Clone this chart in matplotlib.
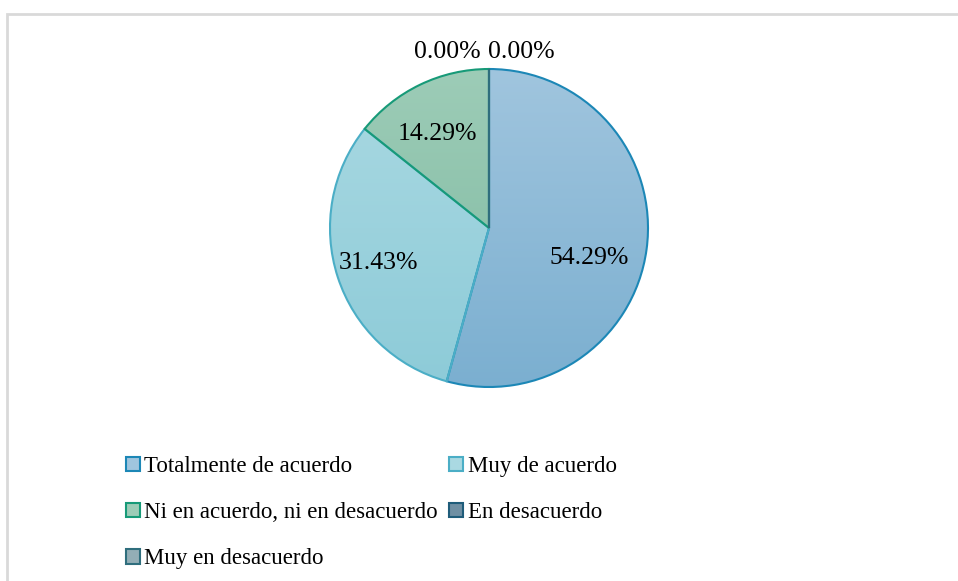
import numpy as np
import matplotlib.pyplot as plt
from matplotlib.patches import Patch, Rectangle
from matplotlib.colors import LinearSegmentedColormap

# data
categories = ["Totalmente de acuerdo", "Muy de acuerdo",
              "Ni en acuerdo, ni en desacuerdo", "En desacuerdo",
              "Muy en desacuerdo"]
percentages = [54.29, 31.43, 14.29, 0.00, 0.00]

# colours: (top of gradient, bottom of gradient, edge)
fill_top = ["#A0C5DE", "#AAD9E2", "#9DCCB7", "#6F8FA3", "#93AEB6"]
fill_bottom = ["#7BAFD0", "#8DCBD8", "#7DB9A0", "#56788E", "#7C99A3"]
edge_colors = ["#1C87B6", "#4BAEC6", "#179A78", "#1F5C7A", "#2F6E7D"]

# small shifts of the inside labels (Excel does not centre them exactly)
label_nudge = [(-0.044, -0.10), (-0.05, -0.012), (-0.03, -0.02)]

plt.rcParams['font.family'] = ['Liberation Serif', 'DejaVu Serif']

fig = plt.figure(figsize=(9.58, 5.81), dpi=100)

# light grey chart frame
fig.patches.append(Rectangle((7 / 958, -0.05), 1.2, 1 - 13.5 / 581 + 0.05,
                             transform=fig.transFigure, fill=False,
                             edgecolor="#D9D9D9", linewidth=2))

ax = fig.add_axes([330 / 958, 194 / 581, 318 / 958, 318 / 581])
wedges, _ = ax.pie(percentages, startangle=90, counterclock=False,
                   radius=1.0, wedgeprops=dict(linewidth=1.5))

# gradient fills clipped to each wedge
for i, w in enumerate(wedges):
    w.set_edgecolor(edge_colors[i])
    w.set_facecolor("none")
    w.set_zorder(3)
    if percentages[i] <= 0:
        continue
    cmap = LinearSegmentedColormap.from_list("g%d" % i, [fill_bottom[i], fill_top[i]])
    grad = np.linspace(0, 1, 256).reshape(-1, 1)
    im = ax.imshow(grad, extent=(-1, 1, -1, 1), origin="lower", cmap=cmap,
                   aspect="auto", zorder=2)
    im.set_clip_path(w)

# percentage labels
for i, w in enumerate(wedges):
    ang = np.deg2rad((w.theta1 + w.theta2) / 2)
    if percentages[i] > 0:
        r = 0.68
        nx, ny = label_nudge[i]
        ax.text(r * np.cos(ang) + nx, r * np.sin(ang) + ny, f"{percentages[i]:.2f}%",
                ha="center", va="center", fontsize=18.5, zorder=5)

# zero-value slices sit at the top; labels outside
zero_idx = [i for i, p in enumerate(percentages) if p <= 0]
for k, i in enumerate(zero_idx):
    ha = "right" if k == 0 else "left"
    dx = -0.05 if k == 0 else -0.005
    ax.text(dx, 1.105, f"{percentages[i]:.2f}%", ha=ha, va="center",
            fontsize=18.5, zorder=5)

ax.set_xlim(-1, 1)
ax.set_ylim(-1, 1)
ax.set_aspect("equal")
ax.axis("off")

# legend: rows of two, filled column-wise by matplotlib so reorder
handles = [Patch(facecolor=(fill_top[i]), edgecolor=edge_colors[i], linewidth=1.5)
           for i in range(len(categories))]
order = [0, 2, 4, 1, 3]
fig.legend([handles[i] for i in order], [categories[i] for i in order],
           ncol=2, loc="upper left", bbox_to_anchor=(126 / 958, 1 - 456 / 581),
           frameon=False, fontsize=16.5, handlelength=0.6, handleheight=0.6,
           handletextpad=0.2, columnspacing=0.5, labelspacing=1.1,
           borderpad=0, borderaxespad=0)

fig.savefig("out.png", dpi=100)
